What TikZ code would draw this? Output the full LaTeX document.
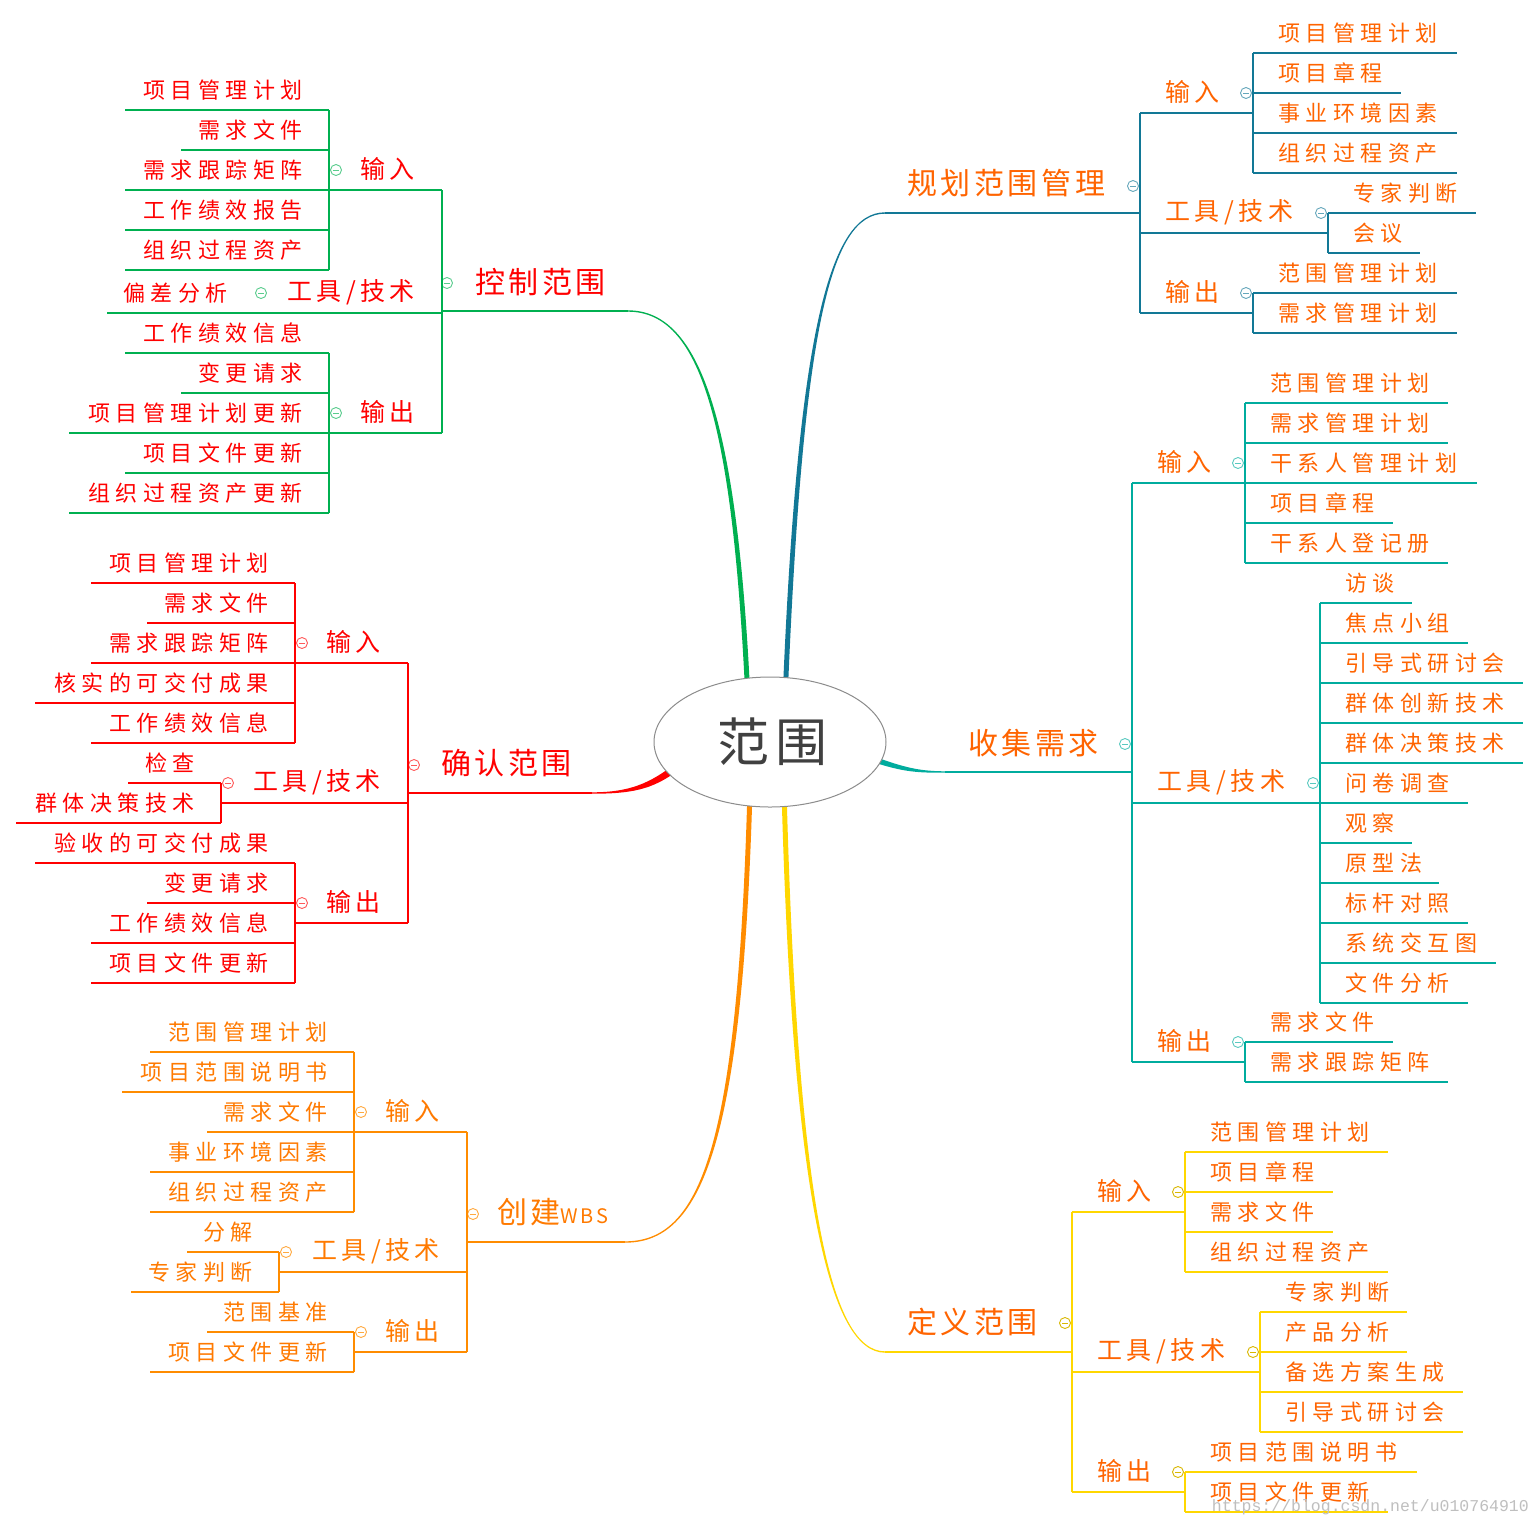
\documentclass[tikz,border=0pt]{standalone}
\usepackage{fontspec}
\usetikzlibrary{shapes.geometric}
\newfontfamily\leaffont[LetterSpace=25]{Noto Sans CJK SC}
\newfontfamily\midfont[LetterSpace=18]{Noto Sans CJK SC}
\newfontfamily\topfont[LetterSpace=12]{Noto Sans CJK SC}
\newfontfamily\rootfont[LetterSpace=10]{Noto Sans CJK SC}
\newfontfamily\wmfont{Liberation Mono}
\definecolor{cA}{RGB}{18,120,150}
\definecolor{cB}{RGB}{0,176,80}
\definecolor{cC}{RGB}{0,172,158}
\definecolor{cD}{RGB}{255,0,0}
\definecolor{cE}{RGB}{255,140,0}
\definecolor{cF}{RGB}{255,215,0}
\definecolor{tOr}{RGB}{255,100,0}
\definecolor{tOr2}{RGB}{255,122,0}
\definecolor{tRed}{RGB}{255,0,0}
\colorlet{bc}{black}
\colorlet{tc}{black}
\colorlet{cc}{black}
\tikzset{
  br/.style={draw=bc,line width=1.3pt},
  leafn/.style={font={\leaffont\fontsize{22}{22}\selectfont}, text=tc, inner sep=0pt},
  midn/.style={font={\midfont\fontsize{25}{25}\selectfont}, text=tc, inner sep=0pt},
  topn/.style={font={\topfont\fontsize{30}{30}\selectfont}, text=tc, inner sep=0pt},
  coll/.style={circle,draw=cc,fill=white,line width=0.9pt,minimum size=11pt,inner sep=0pt,
    path picture={\draw[cc,line width=0.9pt] ([xshift=-3pt]path picture bounding box.center) -- ([xshift=3pt]path picture bounding box.center);}},
}
% right leaf: name, bracket x, line y, end x, text
\newcommand\RL[5]{\draw[br] (#2,#3) -- (#4,#3); \node[leafn,anchor=west] (#1) at (#2+25,#3-20) {#5};}
\newcommand\LL[5]{\draw[br] (#2,#3) -- (#4,#3); \node[leafn,anchor=east] (#1) at (#2-26,#3-20) {#5};}
% mid: name, parent bracket x, line y, child bracket x, text
\newcommand\RM[5]{\draw[br] (#2,#3) -- (#4,#3); \node[midn,anchor=west] (#1) at (#2+25,#3-21) {#5}; \node[coll] (#1c) at (#4-7,#3-20) {};}
\newcommand\LM[5]{\draw[br] (#2,#3) -- (#4,#3); \node[midn,anchor=east] (#1) at (#2-27,#3-21) {#5}; \node[coll] (#1c) at (#4+7,#3-20) {};}
\newcommand\BR[3]{\draw[br] (#1,#2) -- (#1,#3);}
\begin{document}
\begin{tikzpicture}[x=1pt,y=-1pt]
\fill[white] (0,0) rectangle (1540,1527);
\useasboundingbox (0,0) rectangle (1540,1527);

% ---- tapered branches from root
\fill[cA] (782.5,700) .. controls (797.5,330) and (830,212.3) .. (885,212.3) -- (885,213.7) .. controls (830,213.7) and (802.5,330) .. (787.5,700) -- cycle;
\fill[cB] (745.5,700) .. controls (732.5,420) and (700,311.7) .. (628,311.7) -- (628,310.3) .. controls (700,310.3) and (737.5,420) .. (750.5,700) -- cycle;
\fill[cC] (870,755) .. controls (905,768) and (920,771.3) .. (947,771.3) -- (947,772.7) .. controls (920,772.7) and (905,773) .. (870,761) -- cycle;
\fill[cD] (675,764) .. controls (650,783) and (630,792.3) .. (592,792.3) -- (592,793.7) .. controls (630,793.7) and (652,790) .. (677,771) -- cycle;
\fill[cE] (747.5,790) .. controls (737.5,1150) and (700,1241.3) .. (625,1241.3) -- (625,1242.7) .. controls (700,1242.7) and (742.5,1150) .. (752.5,790) -- cycle;
\fill[cF] (781.5,790) .. controls (792.5,1200) and (830,1352.7) .. (885,1352.7) -- (885,1351.3) .. controls (830,1351.3) and (797.5,1200) .. (786.5,790) -- cycle;

% ---- root
\node[ellipse,draw=black!45,line width=1pt,fill=white,minimum width=232pt,minimum height=130pt,inner sep=0pt,
  font={\rootfont\fontsize{52}{52}\selectfont},text=black!75] (root) at (770,742) {\hspace*{5pt}范围};

% ================= 规划范围管理
\begin{scope}
\colorlet{bc}{cA}\colorlet{tc}{tOr}\colorlet{cc}{cA!65}
\draw[br] (885,213) -- (1140,213);
\node[topn,anchor=west] (A) at (907,183) {规划范围管理};
\node[coll] (Ac) at (1133,186) {};
\BR{1140}{113}{313}
\RM{Ain}{1140}{113}{1253}{输入}
\BR{1253}{53}{173}
\RL{Ain1}{1253}{53}{1457}{项目管理计划}
\RL{Ain2}{1253}{93}{1401}{项目章程}
\RL{Ain3}{1253}{133}{1457}{事业环境因素}
\RL{Ain4}{1253}{173}{1457}{组织过程资产}
\RM{Ato}{1140}{233}{1328}{工具/技术}
\BR{1328}{213}{253}
\RL{Ato1}{1328}{213}{1476}{专家判断}
\RL{Ato2}{1328}{253}{1420}{会议}
\RM{Aout}{1140}{313}{1253}{输出}
\BR{1253}{293}{333}
\RL{Aout1}{1253}{293}{1457}{范围管理计划}
\RL{Aout2}{1253}{333}{1457}{需求管理计划}
\end{scope}

% ================= 收集需求
\begin{scope}
\colorlet{bc}{cC}\colorlet{tc}{tOr}\colorlet{cc}{cC!65}
\draw[br] (945,772) -- (1132,772);
\node[topn,anchor=west] (C) at (968,743) {收集需求};
\node[coll] (Cc) at (1125,744) {};
\BR{1132}{483}{1062}
\RM{Cin}{1132}{483}{1245}{输入}
\BR{1245}{403}{563}
\RL{Cin1}{1245}{403}{1448}{范围管理计划}
\RL{Cin2}{1245}{443}{1448}{需求管理计划}
\RL{Cin3}{1245}{483}{1477}{干系人管理计划}
\RL{Cin4}{1245}{523}{1393}{项目章程}
\RL{Cin5}{1245}{563}{1448}{干系人登记册}
\RM{Cto}{1132}{803}{1320}{工具/技术}
\BR{1320}{603}{1003}
\RL{Cto1}{1320}{603}{1412}{访谈}
\RL{Cto2}{1320}{643}{1468}{焦点小组}
\RL{Cto3}{1320}{683}{1523}{引导式研讨会}
\RL{Cto4}{1320}{723}{1523}{群体创新技术}
\RL{Cto5}{1320}{763}{1523}{群体决策技术}
\RL{Cto6}{1320}{803}{1468}{问卷调查}
\RL{Cto7}{1320}{843}{1412}{观察}
\RL{Cto8}{1320}{883}{1439}{原型法}
\RL{Cto9}{1320}{923}{1468}{标杆对照}
\RL{Cto10}{1320}{963}{1496}{系统交互图}
\RL{Cto11}{1320}{1003}{1468}{文件分析}
\RM{Cout}{1132}{1062}{1245}{输出}
\BR{1245}{1042}{1082}
\RL{Cout1}{1245}{1042}{1393}{需求文件}
\RL{Cout2}{1245}{1082}{1448}{需求跟踪矩阵}
\end{scope}

% ================= 定义范围
\begin{scope}
\colorlet{bc}{cF}\colorlet{tc}{tOr}\colorlet{cc}{cF!85!black}
\draw[br] (885,1352) -- (1072,1352);
\node[topn,anchor=west] (F) at (907,1322) {定义范围};
\node[coll] (Fc) at (1065,1323) {};
\BR{1072}{1212}{1492}
\RM{Fin}{1072}{1212}{1185}{输入}
\BR{1185}{1152}{1272}
\RL{Fin1}{1185}{1152}{1388}{范围管理计划}
\RL{Fin2}{1185}{1192}{1333}{项目章程}
\RL{Fin3}{1185}{1232}{1333}{需求文件}
\RL{Fin4}{1185}{1272}{1388}{组织过程资产}
\RM{Fto}{1072}{1372}{1260}{工具/技术}
\BR{1260}{1312}{1432}
\RL{Fto1}{1260}{1312}{1407}{专家判断}
\RL{Fto2}{1260}{1352}{1407}{产品分析}
\RL{Fto3}{1260}{1392}{1463}{备选方案生成}
\RL{Fto4}{1260}{1432}{1463}{引导式研讨会}
\RM{Fout}{1072}{1492}{1185}{输出}
\BR{1185}{1472}{1512}
\RL{Fout1}{1185}{1472}{1417}{项目范围说明书}
\RL{Fout2}{1185}{1512}{1388}{项目文件更新}
\end{scope}

% ================= 控制范围
\begin{scope}
\colorlet{bc}{cB}\colorlet{tc}{tRed}\colorlet{cc}{cB!65}
\draw[br] (628,311) -- (442,311);
\node[topn,anchor=west] (B) at (475,282) {控制范围};
\node[coll] (Bc) at (447,283) {};
\BR{442}{190}{433}
\LM{Bin}{442}{190}{329}{输入}
\BR{329}{110}{270}
\LL{Bin1}{329}{110}{125}{项目管理计划}
\LL{Bin2}{329}{150}{181}{需求文件}
\LL{Bin3}{329}{190}{125}{需求跟踪矩阵}
\LL{Bin4}{329}{230}{125}{工作绩效报告}
\LL{Bin5}{329}{270}{125}{组织过程资产}
\LM{Bto}{442}{313}{254}{工具/技术}
\LL{Bto1}{254}{313}{107}{偏差分析}
\LM{Bout}{442}{433}{329}{输出}
\BR{329}{353}{513}
\LL{Bout1}{329}{353}{125}{工作绩效信息}
\LL{Bout2}{329}{393}{181}{变更请求}
\LL{Bout3}{329}{433}{69}{项目管理计划更新}
\LL{Bout4}{329}{473}{125}{项目文件更新}
\LL{Bout5}{329}{513}{69}{组织过程资产更新}
\end{scope}

% ================= 确认范围
\begin{scope}
\colorlet{bc}{cD}\colorlet{tc}{tRed}\colorlet{cc}{cD!65}
\draw[br] (592,793) -- (408,793);
\node[topn,anchor=west] (D) at (441,763) {确认范围};
\node[coll] (Dc) at (414,765) {};
\BR{408}{663}{923}
\LM{Din}{408}{663}{295}{输入}
\BR{295}{583}{743}
\LL{Din1}{295}{583}{91}{项目管理计划}
\LL{Din2}{295}{623}{147}{需求文件}
\LL{Din3}{295}{663}{91}{需求跟踪矩阵}
\LL{Din4}{295}{703}{35}{核实的可交付成果}
\LL{Din5}{295}{743}{91}{工作绩效信息}
\LM{Dto}{408}{803}{221}{工具/技术}
\BR{221}{783}{823}
\LL{Dto1}{221}{783}{128}{检查}
\LL{Dto2}{221}{823}{16}{群体决策技术}
\LM{Dout}{408}{923}{295}{输出}
\BR{295}{863}{983}
\LL{Dout1}{295}{863}{35}{验收的可交付成果}
\LL{Dout2}{295}{903}{147}{变更请求}
\LL{Dout3}{295}{943}{91}{工作绩效信息}
\LL{Dout4}{295}{983}{91}{项目文件更新}
\end{scope}

% ================= 创建WBS
\begin{scope}
\colorlet{bc}{cE}\colorlet{tc}{tOr2}\colorlet{cc}{cE!75}
\draw[br] (625,1242) -- (467,1242);
\node[topn,anchor=west] (E) at (497,1212) {创建{\fontsize{20}{20}\selectfont WBS}};
\node[coll] (Ec) at (473,1214) {};
\BR{467}{1132}{1352}
\LM{Ein}{467}{1132}{354}{输入}
\BR{354}{1052}{1212}
\LL{Ein1}{354}{1052}{150}{范围管理计划}
\LL{Ein2}{354}{1092}{122}{项目范围说明书}
\LL{Ein3}{354}{1132}{207}{需求文件}
\LL{Ein4}{354}{1172}{150}{事业环境因素}
\LL{Ein5}{354}{1212}{150}{组织过程资产}
\LM{Eto}{467}{1272}{279}{工具/技术}
\BR{279}{1252}{1292}
\LL{Eto1}{279}{1252}{187}{分解}
\LL{Eto2}{279}{1292}{131}{专家判断}
\LM{Eout}{467}{1352}{354}{输出}
\BR{354}{1332}{1372}
\LL{Eout1}{354}{1332}{207}{范围基准}
\LL{Eout2}{354}{1372}{150}{项目文件更新}
\end{scope}

% watermark
\node[anchor=east,inner sep=0pt,text=black!25,font={\wmfont\fontsize{16.5}{16.5}\selectfont}] (wm) at (1529,1507) {https://blog.csdn.net/u010764910};
\end{tikzpicture}
\end{document}
